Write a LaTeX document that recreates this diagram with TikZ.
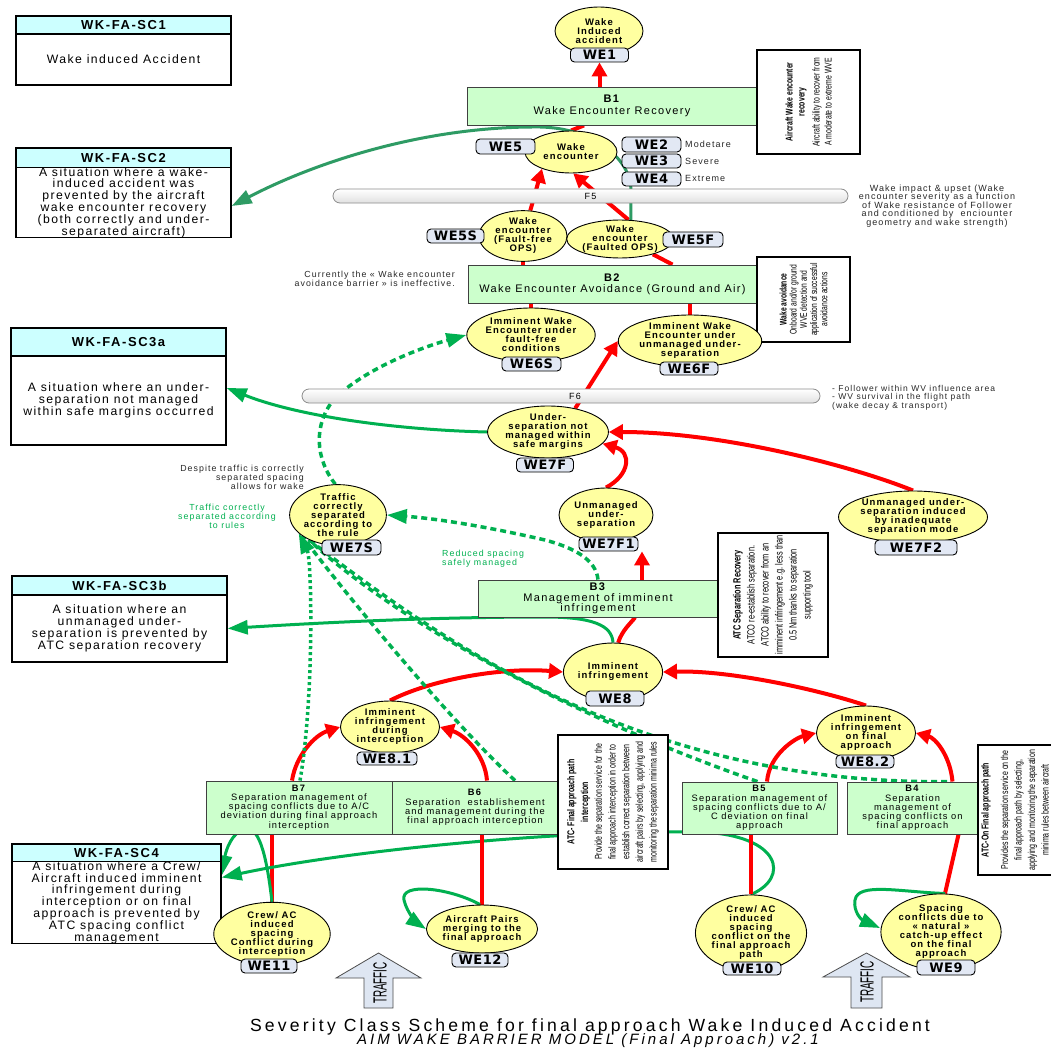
\documentclass[tikz,border=0pt]{standalone}
\usepackage{fontspec}
\setmainfont{Liberation Sans}[LetterSpace=12]
\newfontfamily\tagfont{DejaVu Sans}[LetterSpace=4]
\newfontfamily\narrowfont{Liberation Sans}[FakeStretch=0.7]
\newfontfamily\trafficfont{Liberation Sans}[FakeStretch=0.52]
\usetikzlibrary{arrows.meta,shapes.geometric}

\definecolor{evtfill}{RGB}{255,255,160}
\definecolor{barfill}{RGB}{204,255,204}
\definecolor{scfill}{RGB}{204,255,255}
\definecolor{tagfill}{RGB}{226,232,244}
\definecolor{grn}{RGB}{0,176,80}
\definecolor{seagrn}{RGB}{46,155,100}
\definecolor{notegray}{RGB}{40,40,40}
\definecolor{arrowfill}{RGB}{222,230,242}

\pgfdeclarelayer{back}
\pgfdeclarelayer{links}
\pgfsetlayers{back,links,main}

\tikzset{
  event/.style={ellipse, draw=black, line width=0.9pt, fill=evtfill, inner sep=0pt, align=center,
                font=\fontsize{9.5}{9}\selectfont\bfseries},
  wetag/.style={draw=black, line width=0.9pt, fill=tagfill, rounded corners=4pt, inner sep=0pt,
                minimum width=58pt, minimum height=14pt, font=\tagfont\fontsize{13}{13}\selectfont\bfseries},
  barrier/.style={draw=black!75, line width=0.9pt, fill=barfill, inner sep=0pt, align=center},
  bigbar/.style={barrier, font=\fontsize{11}{11}\selectfont},
  smallbar/.style={barrier, font=\fontsize{9.3}{9.2}\selectfont},
  schead/.style={draw=black, line width=1.4pt, fill=scfill, inner sep=0pt, font=\fontsize{13}{13}\selectfont\bfseries},
  scbody/.style={draw=black, line width=1.4pt, fill=white, inner sep=0pt, align=center, font=\fontsize{12.2}{11.8}\selectfont},
  sidebox/.style={draw=black, line width=1.4pt, fill=white, rotate=90, inner sep=0pt, align=center},
  flowbar/.style={draw=black!45, line width=0.8pt, rounded corners=7pt, top color=white, bottom color=black!12,
                  inner sep=0pt, minimum height=14pt, font=\fontsize{9}{9}\selectfont},
  note/.style={text=notegray, inner sep=0pt, font=\fontsize{8.8}{9}\selectfont},
  gnote/.style={text=grn, inner sep=0pt, font=\fontsize{8.8}{9}\selectfont},
  sevlbl/.style={text=notegray, inner sep=0pt, anchor=west, font=\fontsize{9}{9}\selectfont},
  trafficlbl/.style={rotate=90, inner sep=0pt, font=\trafficfont\fontsize{19}{19}\selectfont},
  trafficarrow/.style={fill=arrowfill, draw=black!70, line width=0.8pt},
  redarr/.style={draw=red, line width=4pt, -{Triangle[length=14pt,width=15pt]}},
  redln/.style={draw=red, line width=4pt},
  grnarr/.style={draw=grn, line width=3pt, -{Triangle[length=20pt,width=14pt]}},
  sgarr/.style={grnarr, draw=seagrn},
  grndash/.style={draw=grn, line width=3.5pt, dash pattern=on 6pt off 4pt},
  grndot/.style={draw=grn, line width=3.5pt, dash pattern=on 3pt off 3pt},
  gdarr/.style={grndash, -{Triangle[length=20pt,width=14pt]}},
}

\begin{document}
\begin{tikzpicture}[x=1pt,y=-1pt]
\useasboundingbox (0,0) rectangle (1050,1051);
\begin{pgfonlayer}{back}
  \fill[white] (0,0) rectangle (1050,1051);
\end{pgfonlayer}

% ---------- severity class boxes ----------
\node[schead, minimum width=215pt, minimum height=18pt] (sc1h) at (123.5,25) {WK-FA-SC1};
\node[scbody, minimum width=215pt, minimum height=51pt] (sc1) at (123.5,59.5) {Wake induced Accident};

\node[schead, minimum width=215pt, minimum height=20pt] (sc2h) at (123.5,158) {WK-FA-SC2};
\node[scbody, minimum width=215pt, minimum height=69pt] (sc2) at (123.5,202.5)
  {A situation where a wake-\\induced accident was\\prevented by the aircraft\\wake encounter recovery\\(both correctly and under-\\separated aircraft)};

\node[schead, minimum width=215pt, minimum height=28pt] (sc3ah) at (118.5,342) {WK-FA-SC3a};
\node[scbody, minimum width=215pt, minimum height=89pt] (sc3a) at (118.5,400.5)
  {A situation where an under-\\separation not managed\\within safe margins occurred};

\node[schead, minimum width=215pt, minimum height=19pt] (sc3bh) at (119.5,585.5) {WK-FA-SC3b};
\node[scbody, minimum width=215pt, minimum height=67pt] (sc3b) at (119.5,628.5)
  {A situation where an\\unmanaged under-\\separation is prevented by\\ATC separation recovery};

\node[schead, minimum width=209pt, minimum height=18pt] (sc4h) at (116.5,853) {WK-FA-SC4};
\node[scbody, minimum width=209pt, minimum height=81pt] (sc4) at (116.5,902.5)
  {A situation where a Crew/\\Aircraft induced imminent\\infringement during\\interception or on final\\approach is prevented by\\ATC spacing conflict\\management};

% ---------- barriers ----------
\node[bigbar, minimum width=290pt, minimum height=38pt, font=\fontsize{11}{12}\selectfont] (b1) at (612,106)
  {\textbf{B1}\\Wake Encounter Recovery};
\node[bigbar, minimum width=289pt, minimum height=38pt, font=\fontsize{11}{11}\selectfont] (b2) at (612.5,284)
  {\textbf{B2}\\Wake Encounter Avoidance (Ground and Air)};
\node[bigbar, minimum width=240pt, minimum height=37pt, font=\fontsize{11}{10.5}\selectfont] (b3) at (598,598.5)
  {\textbf{B3}\\Management of imminent\\infringement};
\node[smallbar, minimum width=186pt, minimum height=53pt] (b7) at (299,807.5)
  {\textbf{B7}\\Separation management of\\spacing conflicts due to A/C\\deviation during final approach\\interception};
\node[smallbar, minimum width=166pt, minimum height=53pt] (b6) at (475,807.5)
  {\textbf{B6}\\Separation\ \ establishement\\and management during the\\final approach interception};
\node[smallbar, minimum width=155pt, minimum height=52pt] (b5) at (759.5,808)
  {\textbf{B5}\\Separation management of\\spacing conflicts due to A/\\C deviation on final\\approach};
\node[smallbar, minimum width=131pt, minimum height=52pt] (b4) at (912.5,808)
  {\textbf{B4}\\Separation\\management of\\spacing conflicts on\\final approach};

% ---------- barrier descriptions (vertical text) ----------
\node[sidebox, minimum width=104pt, minimum height=103pt, font=\narrowfont\fontsize{9.8}{12}\selectfont] (s1) at (808.5,102)
  {\textbf{Aircraft Wake encounter}\\\textbf{recovery}\\[3pt]Aircraft ability to recover from\\A moderate to extreme WVE};
\node[sidebox, minimum width=85pt, minimum height=93pt, font=\narrowfont\fontsize{9.6}{10.2}\selectfont] (s2) at (803.5,299.5)
  {\textbf{Wake avoidance}\\Onboard and/or ground\\WVE detection and\\application of successful\\avoidance actions};
\node[sidebox, minimum width=124pt, minimum height=110pt, font=\narrowfont\fontsize{10.5}{14}\selectfont] (s3) at (773,595)
  {\textbf{ATC Separation Recovery}\\ATCO re-establish separation.\\ATCO ability to recover from an\\imminent infringement e.g. less than\\0.5 Nm thanks to separation\\supporting tool};
\node[sidebox, minimum width=134pt, minimum height=110pt, font=\narrowfont\fontsize{10}{13.7}\selectfont] (s4) at (613,802)
  {\textbf{ATC- Final approach path}\\\textbf{interception}\\Provide the separation service for the\\final approach interception in order to\\establish correct separation between\\aircraft pairs by selecting, applying and\\monitoring the separation minima rules};
\node[sidebox, minimum width=130pt, minimum height=74pt, font=\narrowfont\fontsize{10}{13.5}\selectfont] (s5) at (1015,810)
  {\textbf{ATC-On Final approach path}\\[6pt]Provides the separation service on the\\final approach path by selecting,\\applying and monitoring the separation\\minima rules between aircraft};

% ---------- flow bars ----------
\node[flowbar, minimum width=515pt] (f5) at (590.5,196) {F5};
\node[flowbar, minimum width=518pt] (f6) at (561,396) {};
\node[inner sep=0pt, font=\fontsize{9}{9}\selectfont] (f6lbl) at (575,396) {F6};

% ---------- events ----------
\node[event, minimum width=88pt, minimum height=48pt] (we1) at (599,31) {Wake\\Induced\\accident};
\node[event, minimum width=92pt, minimum height=42pt] (we5) at (571,152) {Wake\\encounter};
\node[event, minimum width=88pt, minimum height=37pt] (we5s) at (523,236) {Wake\\encounter\\(Fault-free\\OPS)};
\node[event, minimum width=88pt, minimum height=36pt] (we5f) at (620,239) {Wake\\encounter\\(Faulted OPS)};
\node[event, minimum width=120pt, minimum height=54pt] (we6s) at (531,335) {Imminent Wake\\Encounter under\\fault-free\\conditions};
\node[event, minimum width=120pt, minimum height=52pt] (we6f) at (690,341) {Imminent Wake\\Encounter under\\unmanaged under-\\separation};
\node[event, minimum width=120pt, minimum height=52pt] (we7f) at (548,432) {Under-\\separation not\\managed within\\safe margins};
\node[event, minimum width=94pt, minimum height=56pt] (we7s) at (338,515) {Traffic\\correctly\\separated\\according to\\the rule};
\node[event, minimum width=94pt, minimum height=54pt] (we7f1) at (606,515) {Unmanaged\\under-\\separation};
\node[event, minimum width=132pt, minimum height=52pt] (we7f2) at (913,517) {Unmanaged under-\\separation induced\\by inadequate\\separation mode};
\node[event, minimum width=94pt, minimum height=58pt] (we8) at (613,672) {Imminent\\infringement};
\node[event, minimum width=94pt, minimum height=52pt] (we81) at (390,727) {Imminent\\infringement\\during\\interception};
\node[event, minimum width=94pt, minimum height=54pt] (we82) at (866,733) {Imminent\\infringement\\on final\\approach};
\node[event, minimum width=94pt, minimum height=54pt] (we11) at (272,934) {Crew/ AC\\induced\\spacing\\Conflict during\\interception};
\node[event, minimum width=96pt, minimum height=48pt] (we12) at (482,929) {Aircraft Pairs\\merging to the\\final approach};
\node[event, minimum width=94pt, minimum height=54pt] (we10) at (751,933) {Crew/ AC\\induced\\spacing\\conflict on the\\final approach\\path};
\node[event, minimum width=90pt, minimum height=56pt] (we9) at (941,932) {Spacing\\conflicts due to\\« natural »\\catch-up effect\\on the final\\approach};

% ---------- event tags ----------
\node[wetag] (t1) at (599.5,55) {WE1};
\node[wetag, minimum width=59pt, minimum height=15pt] (t5) at (505.5,146.5) {WE5};
\node[wetag, minimum width=59pt, minimum height=15pt] (t2) at (651.5,144.5) {WE2};
\node[wetag, minimum width=59pt] (t3) at (651.5,161) {WE3};
\node[wetag, minimum width=59pt] (t4) at (651.5,179) {WE4};
\node[wetag, minimum width=57pt] (t5s) at (455.5,236) {WE5S};
\node[wetag, minimum width=60pt, minimum height=15pt] (t5f) at (693,239.5) {WE5F};
\node[wetag, minimum width=59pt] (t6s) at (531.5,364) {WE6S};
\node[wetag, minimum height=13pt] (t6f) at (689,368.5) {WE6F};
\node[wetag, minimum width=57pt] (t7f) at (545,465) {WE7F};
\node[wetag, minimum width=59pt, minimum height=15pt] (t7s) at (351.5,547.5) {WE7S};
\node[wetag, minimum width=59pt] (t7f1) at (608.5,544) {WE7F1};
\node[wetag, minimum width=82pt, minimum height=15pt] (t7f2) at (916,547.5) {WE7F2};
\node[wetag, minimum height=15pt] (t8) at (615,698.5) {WE8};
\node[wetag, minimum width=60pt, minimum height=13pt] (t81) at (387,758.5) {WE8.1};
\node[wetag, minimum height=13pt] (t82) at (865,761.5) {WE8.2};
\node[wetag, minimum width=56pt] (t11) at (269,966) {WE11};
\node[wetag, minimum width=56pt] (t12) at (480,960) {WE12};
\node[wetag, minimum height=13pt] (t10) at (752,968.5) {WE10};
\node[wetag, minimum height=15pt] (t9) at (946,967.5) {WE9};

\node[sevlbl] (sev2) at (685,144.5) {Modetare};
\node[sevlbl] (sev3) at (685,161) {Severe};
\node[sevlbl] (sev4) at (685,178) {Extreme};

% ---------- annotations ----------
\node[note, align=center, font=\fontsize{9}{8.6}\selectfont] (impact) at (937,206)
  {Wake impact \& upset (Wake\\encounter severity as a function\\of Wake resistance of Follower\\and conditioned by\ \ enciounter\\geometry and wake strength)};
\node[note, anchor=east, align=right] (ineff) at (455,278.5)
  {Currently the « Wake encounter\\avoidance barrier » is ineffective.};
\node[note, anchor=west, align=left, font=\fontsize{8.5}{7.8}\selectfont] (wvnote) at (832,397.5)
  {- Follower within WV influence area\\- WV survival in the flight path\\(wake decay \& transport)};
\node[note, anchor=east, align=right] (despite) at (304,477)
  {Despite traffic is correctly\\separated spacing\\allows for wake};
\node[gnote, align=center] (correct) at (227,516)
  {Traffic correctly\\separated according\\to rules};
\node[gnote, anchor=west, align=left] (reduced) at (442,558.5)
  {Reduced spacing\\safely managed};

% ---------- traffic arrows ----------
\draw[trafficarrow] (378.5,953) -- (421,978) -- (393,978) -- (393,1008) -- (364,1008) -- (364,978) -- (336,978) -- cycle;
\node[trafficlbl] (tr1) at (380,983) {TRAFFIC};
\draw[trafficarrow] (866.5,953) -- (910,977) -- (882,977) -- (882,1008) -- (851,1008) -- (851,977) -- (823,977) -- cycle;
\node[trafficlbl] (tr2) at (867,982) {TRAFFIC};

% ---------- title ----------
\node[anchor=base, inner sep=0pt, font=\fontsize{17.6}{17.6}\selectfont\addfontfeatures{LetterSpace=18}] (title) at (590,1031)
  {Severity Class Scheme for final approach Wake Induced Accident};
\node[anchor=base, inner sep=0pt, font=\fontsize{15}{15}\selectfont\itshape\addfontfeatures{LetterSpace=20}] (subtitle) at (588,1044)
  {AIM WAKE BARRIER MODEL (Final Approach) v2.1};

% ---------- connectors ----------
\begin{pgfonlayer}{links}
  % top of the chain
  \draw[redarr] (b1.north -| t1.south) -- (t1.south);
  \draw[redln] (we5.north) -- ([xshift=-28pt]b1.south);
  \draw[redarr] (we5s.74) -- (we5.210);
  \draw[redarr] (we5f.66) -- (we5.-84);
  \draw[sgarr] (we5f.60) -- ++(0,-30) .. controls +(0,-30) and (595,128) .. (540,127)
        .. controls (420,126) and (310,165) .. ([yshift=-3.5pt]sc2.east);

  % wake encounter avoidance
  \draw[redln] (we5s.south) -- (we5s.south |- b2.north);
  \draw[redln] (we5f.-25) -- ([xshift=60pt]b2.north);
  \draw[redln] (we6s.north) -- (we6s.north |- b2.south);
  \draw[redln] (we6f.north) -- (we6f.north |- b2.south);
  \draw[gdarr] (we7s.95) .. controls (316,460) and (312,425) .. (335,398)
        .. controls (370,365) and (430,345) .. (we6s.west);
  \draw[redarr] (we7f.41) -- (we6f.west);
  \draw[grnarr] (we7f.west) .. controls (400,430) and (300,417) .. ([yshift=12.5pt]sc3a.east);

  % unmanaged under-separation
  \draw[redarr] (we7f1.north) .. controls (630,475) and (632,452) .. (we7f.-12);
  \draw[redarr] (we7f2.north) .. controls (850,465) and (720,432) .. (we7f.east);
  \draw[redarr] ([xshift=44pt]b3.north) -- ([xshift=44pt]b3.north |- t7f1.south);
  \draw[redln] (we8.80) .. controls (622,630) and (632,622) .. ([xshift=37pt]b3.south);
  \draw[grnarr] (we8.north) .. controls (612,625) and (592,617) .. (545,617)
        .. controls (420,617) and (300,624) .. (sc3b.east);
  \draw[gdarr] (b3.north) .. controls (596,560) and (575,548) .. (545,540)
        .. controls (480,525) and (430,518) .. (we7s.east);

  % imminent infringement
  \draw[redarr] (we81.north) .. controls (430,680) and (500,667) .. (we8.west);
  \draw[redarr] (we82.north) .. controls (820,690) and (730,670) .. (we8.east);
  \draw[redarr] ([xshift=-7pt]b7.north) .. controls (296,755) and (315,735) .. (we81.west);
  \draw[redarr] ([xshift=12pt]b6.north) .. controls (485,755) and (465,735) .. (we81.east);
  \draw[redarr] ([xshift=7.5pt]b5.north) .. controls (769,755) and (795,738) .. (we82.west);
  \draw[redarr] ([xshift=40pt]b4.north) .. controls (950,755) and (935,738) .. (we82.east);

  % correctly separated traffic
  \draw[grndot, -{Triangle[length=20pt,width=14pt]}] ([xshift=1pt]b7.north) .. controls (314,700) and (312,560) .. (we7s.205);
  \draw[grndash] ([xshift=40pt]b6.north) .. controls (450,720) and (350,600) .. (we7s.-150);
  \draw[grndash] ([xshift=-2pt]b5.north) .. controls (580,720) and (400,625) .. (we7s.-140);
  \draw[grndash] ([xshift=34.5pt]b4.north) .. controls (640,785) and (440,640) .. (we7s.-140);

  % initiating events
  \draw[redln] (we11.north) -- (we11.north |- b7.south);
  \draw[grnarr] (we11.north) .. controls (266,850) and (258,826) .. (245,829)
        .. controls (232,832) and (226,850) .. ([yshift=27pt]sc4.east);
  \draw[grnarr] (we10.north) .. controls (790,878) and (782,835) .. (700,832)
        .. controls (560,830) and (350,850) .. ([yshift=25pt]sc4.east);
  \draw[redln] (we12.north) -- (we12.north |- b6.south);
  \draw[grnarr] ([xshift=-2pt]we12.north) .. controls (450,888) and (400,882) .. (404,900)
        .. controls (407,914) and (420,925) .. (we12.west);
  \draw[redln] (we10.north) -- (we10.north |- b5.south);
  \draw[redln] ([xshift=4pt]we9.north) -- ([xshift=46pt]b4.south);
  \coordinate (loop9) at (880,928);
  \draw[grnarr] ([xshift=4pt]we9.north) .. controls (900,892) and (858,882) .. (855,900)
        .. controls (853,912) and (862,920) .. (loop9);
\end{pgfonlayer}
\end{tikzpicture}
\end{document}
